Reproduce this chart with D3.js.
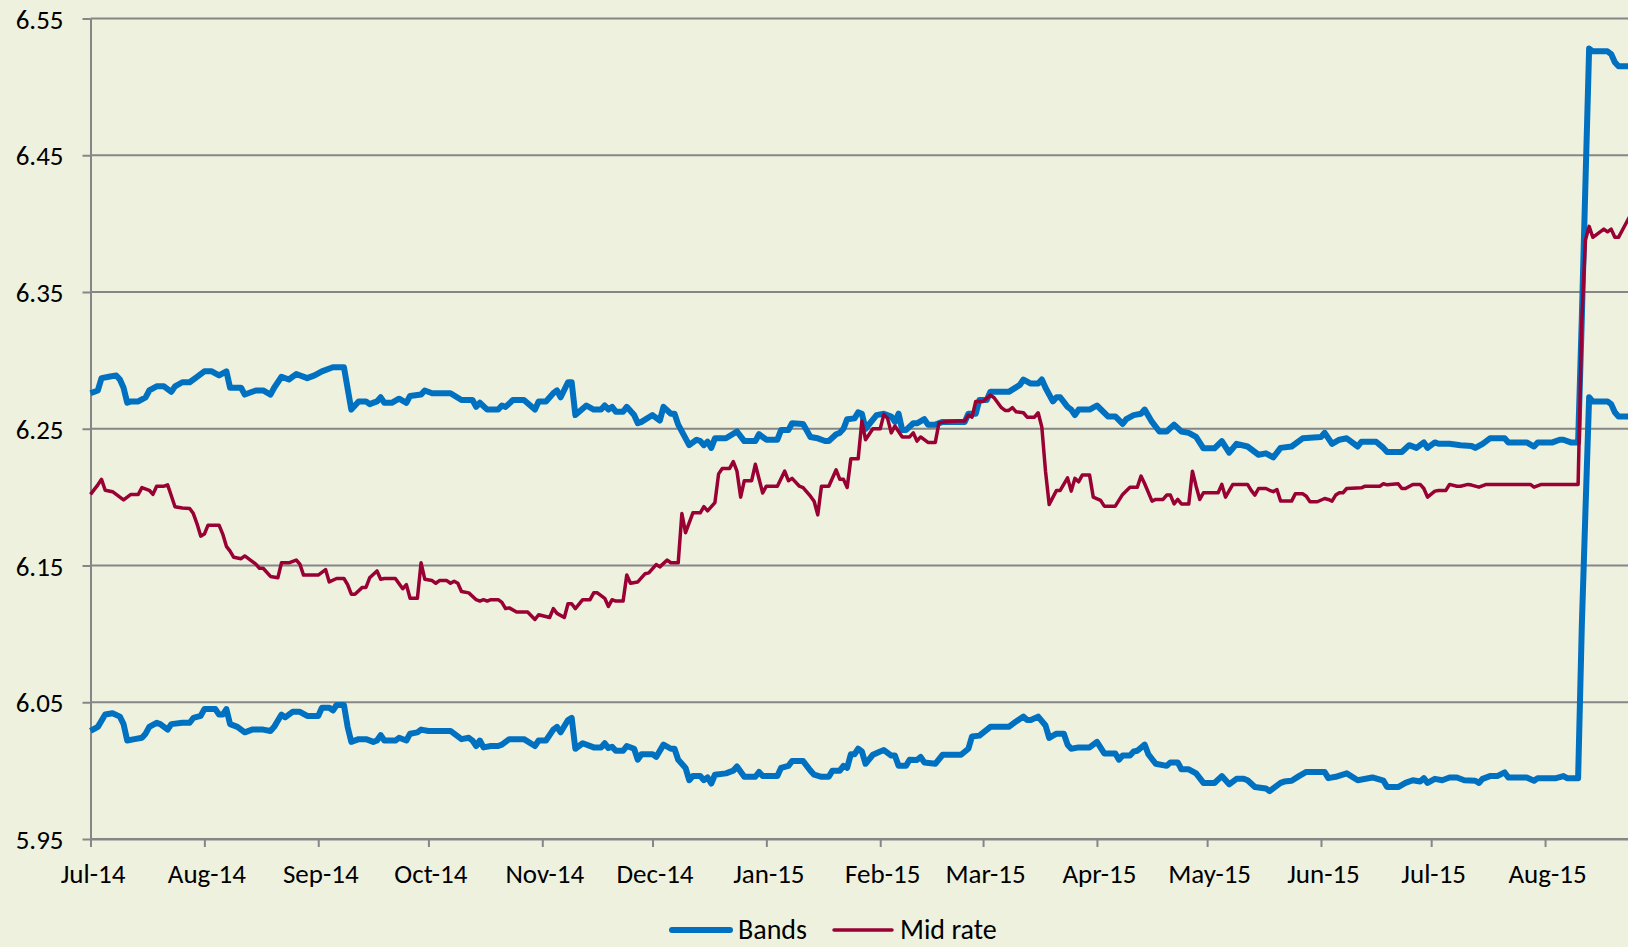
<!DOCTYPE html>
<html>
<head>
<meta charset="utf-8">
<script src="https://cdn.jsdelivr.net/npm/d3@7"></script>
<style>
  body { margin: 0; background: #eef1de; }
  .chart text { font-family: Carlito, Lato, "Noto Sans", sans-serif; fill: #000; }
</style>
</head>
<body>
<div class="chart"></div>
<script>
// upper edge of the trading band
const bandUpper = [
  ["2014-07-01",6.276],["2014-07-03",6.278],["2014-07-04",6.287],["2014-07-06",6.288],["2014-07-08",6.289],["2014-07-09",6.286],
  ["2014-07-10",6.280],["2014-07-11",6.269],["2014-07-12",6.270],["2014-07-14",6.270],["2014-07-16",6.273],["2014-07-17",6.278],
  ["2014-07-19",6.281],["2014-07-21",6.281],["2014-07-23",6.277],["2014-07-24",6.281],["2014-07-26",6.284],["2014-07-28",6.284],
  ["2014-07-30",6.288],["2014-08-01",6.292],["2014-08-03",6.292],["2014-08-05",6.289],["2014-08-07",6.292],["2014-08-08",6.280],
  ["2014-08-11",6.280],["2014-08-12",6.275],["2014-08-15",6.278],["2014-08-17",6.278],["2014-08-19",6.275],["2014-08-20",6.280],
  ["2014-08-22",6.288],["2014-08-24",6.286],["2014-08-26",6.290],["2014-08-29",6.287],["2014-08-31",6.289],["2014-09-02",6.292],
  ["2014-09-05",6.295],["2014-09-08",6.295],["2014-09-10",6.264],["2014-09-12",6.270],["2014-09-14",6.270],["2014-09-15",6.268],
  ["2014-09-17",6.270],["2014-09-18",6.273],["2014-09-19",6.269],["2014-09-21",6.269],["2014-09-23",6.272],["2014-09-25",6.269],
  ["2014-09-26",6.274],["2014-09-29",6.275],["2014-09-30",6.278],["2014-10-02",6.276],["2014-10-07",6.276],["2014-10-10",6.271],
  ["2014-10-13",6.271],["2014-10-14",6.266],["2014-10-15",6.269],["2014-10-17",6.264],["2014-10-20",6.264],["2014-10-21",6.267],
  ["2014-10-22",6.266],["2014-10-24",6.271],["2014-10-27",6.271],["2014-10-30",6.264],["2014-10-31",6.270],["2014-11-02",6.270],
  ["2014-11-04",6.276],["2014-11-05",6.278],["2014-11-06",6.273],["2014-11-08",6.284],["2014-11-09",6.284],["2014-11-10",6.260],
  ["2014-11-13",6.267],["2014-11-15",6.264],["2014-11-17",6.264],["2014-11-18",6.267],["2014-11-19",6.264],["2014-11-20",6.266],
  ["2014-11-21",6.2625],["2014-11-23",6.2625],["2014-11-24",6.266],["2014-11-26",6.260],["2014-11-27",6.254],["2014-11-28",6.255],
  ["2014-12-01",6.260],["2014-12-03",6.256],["2014-12-04",6.266],["2014-12-06",6.261],["2014-12-07",6.261],["2014-12-08",6.253],
  ["2014-12-11",6.238],["2014-12-13",6.242],["2014-12-14",6.241],["2014-12-15",6.238],["2014-12-16",6.2405],["2014-12-17",6.236],
  ["2014-12-18",6.243],["2014-12-21",6.243],["2014-12-24",6.248],["2014-12-26",6.241],["2014-12-29",6.241],["2014-12-30",6.246],
  ["2015-01-01",6.242],["2015-01-04",6.242],["2015-01-05",6.249],["2015-01-07",6.249],["2015-01-08",6.254],["2015-01-11",6.2535],
  ["2015-01-13",6.244],["2015-01-15",6.243],["2015-01-17",6.241],["2015-01-18",6.241],["2015-01-20",6.246],["2015-01-21",6.247],
  ["2015-01-22",6.250],["2015-01-23",6.257],["2015-01-25",6.2576],["2015-01-26",6.262],["2015-01-27",6.261],["2015-01-28",6.250],
  ["2015-01-31",6.260],["2015-02-02",6.261],["2015-02-04",6.259],["2015-02-05",6.255],["2015-02-06",6.261],["2015-02-07",6.249],
  ["2015-02-08",6.249],["2015-02-10",6.254],["2015-02-11",6.254],["2015-02-13",6.257],["2015-02-14",6.253],["2015-02-16",6.253],
  ["2015-02-18",6.255],["2015-02-24",6.255],["2015-02-25",6.261],["2015-02-27",6.261],["2015-02-28",6.271],["2015-03-02",6.271],
  ["2015-03-03",6.277],["2015-03-08",6.277],["2015-03-11",6.282],["2015-03-12",6.286],["2015-03-14",6.283],["2015-03-16",6.283],
  ["2015-03-17",6.286],["2015-03-18",6.280],["2015-03-20",6.270],["2015-03-21",6.273],["2015-03-22",6.273],["2015-03-24",6.266],
  ["2015-03-25",6.264],["2015-03-26",6.260],["2015-03-27",6.264],["2015-03-30",6.264],["2015-04-01",6.267],["2015-04-04",6.259],
  ["2015-04-06",6.259],["2015-04-08",6.2535],["2015-04-09",6.257],["2015-04-11",6.260],["2015-04-13",6.261],["2015-04-14",6.264],
  ["2015-04-16",6.255],["2015-04-18",6.248],["2015-04-20",6.248],["2015-04-22",6.253],["2015-04-24",6.248],["2015-04-26",6.247],
  ["2015-04-28",6.244],["2015-04-30",6.2357],["2015-05-03",6.2357],["2015-05-05",6.241],["2015-05-07",6.2325],["2015-05-09",6.239],
  ["2015-05-12",6.237],["2015-05-15",6.231],["2015-05-17",6.232],["2015-05-19",6.229],["2015-05-21",6.236],["2015-05-24",6.237],
  ["2015-05-27",6.243],["2015-06-01",6.244],["2015-06-02",6.247],["2015-06-04",6.239],["2015-06-06",6.242],["2015-06-08",6.243],
  ["2015-06-11",6.237],["2015-06-12",6.2405],["2015-06-16",6.2405],["2015-06-18",6.236],["2015-06-19",6.233],["2015-06-23",6.233],
  ["2015-06-25",6.238],["2015-06-27",6.236],["2015-06-29",6.240],["2015-06-30",6.236],["2015-07-02",6.240],["2015-07-03",6.239],
  ["2015-07-06",6.239],["2015-07-09",6.238],["2015-07-12",6.2374],["2015-07-13",6.236],["2015-07-15",6.239],["2015-07-17",6.243],
  ["2015-07-21",6.243],["2015-07-22",6.240],["2015-07-27",6.240],["2015-07-29",6.237],["2015-07-30",6.240],["2015-08-03",6.240],
  ["2015-08-05",6.242],["2015-08-06",6.242],["2015-08-08",6.240],["2015-08-10",6.240],["2015-08-11",6.330],["2015-08-12",6.430],
  ["2015-08-13",6.528],["2015-08-14",6.526],["2015-08-18",6.526],["2015-08-19",6.524],["2015-08-20",6.518],["2015-08-21",6.515],
  ["2015-08-24",6.515]
]

// lower edge of the trading band
const bandLower = [
  ["2014-07-01",6.029],["2014-07-03",6.032],["2014-07-05",6.041],["2014-07-07",6.042],["2014-07-09",6.0395],["2014-07-10",6.034],
  ["2014-07-11",6.022],["2014-07-13",6.023],["2014-07-15",6.024],["2014-07-16",6.027],["2014-07-17",6.032],["2014-07-19",6.035],
  ["2014-07-20",6.034],["2014-07-22",6.030],["2014-07-23",6.034],["2014-07-26",6.035],["2014-07-28",6.035],["2014-07-29",6.0385],
  ["2014-07-31",6.040],["2014-08-01",6.045],["2014-08-04",6.045],["2014-08-05",6.041],["2014-08-06",6.041],["2014-08-07",6.045],
  ["2014-08-08",6.034],["2014-08-10",6.032],["2014-08-12",6.028],["2014-08-14",6.030],["2014-08-17",6.030],["2014-08-19",6.029],
  ["2014-08-20",6.032],["2014-08-22",6.041],["2014-08-23",6.039],["2014-08-25",6.043],["2014-08-27",6.043],["2014-08-29",6.040],
  ["2014-09-01",6.040],["2014-09-02",6.046],["2014-09-04",6.046],["2014-09-05",6.044],["2014-09-06",6.048],["2014-09-08",6.048],
  ["2014-09-09",6.032],["2014-09-10",6.021],["2014-09-12",6.023],["2014-09-14",6.023],["2014-09-16",6.021],["2014-09-17",6.022],
  ["2014-09-18",6.026],["2014-09-19",6.022],["2014-09-22",6.022],["2014-09-23",6.024],["2014-09-25",6.022],["2014-09-26",6.027],
  ["2014-09-28",6.028],["2014-09-29",6.030],["2014-10-01",6.029],["2014-10-07",6.029],["2014-10-10",6.023],["2014-10-12",6.024],
  ["2014-10-13",6.022],["2014-10-14",6.018],["2014-10-15",6.022],["2014-10-16",6.017],["2014-10-18",6.018],["2014-10-20",6.018],
  ["2014-10-21",6.019],["2014-10-23",6.023],["2014-10-27",6.023],["2014-10-30",6.018],["2014-10-31",6.022],["2014-11-02",6.022],
  ["2014-11-04",6.030],["2014-11-05",6.032],["2014-11-06",6.028],["2014-11-08",6.037],["2014-11-09",6.0385],["2014-11-10",6.016],
  ["2014-11-12",6.020],["2014-11-15",6.017],["2014-11-17",6.017],["2014-11-18",6.020],["2014-11-19",6.0165],["2014-11-20",6.0175],
  ["2014-11-21",6.0145],["2014-11-23",6.0145],["2014-11-24",6.018],["2014-11-26",6.016],["2014-11-27",6.008],["2014-11-28",6.012],
  ["2014-12-01",6.012],["2014-12-02",6.010],["2014-12-04",6.019],["2014-12-06",6.016],["2014-12-07",6.016],["2014-12-08",6.008],
  ["2014-12-10",6.002],["2014-12-11",5.993],["2014-12-12",5.996],["2014-12-14",5.996],["2014-12-15",5.993],["2014-12-16",5.995],
  ["2014-12-17",5.9906],["2014-12-18",5.997],["2014-12-21",5.998],["2014-12-23",6.000],["2014-12-24",6.003],["2014-12-26",5.9955],
  ["2014-12-29",5.9955],["2014-12-30",5.999],["2014-12-31",5.996],["2015-01-04",5.996],["2015-01-05",6.002],["2015-01-07",6.0035],
  ["2015-01-08",6.007],["2015-01-11",6.007],["2015-01-13",6.000],["2015-01-14",5.997],["2015-01-16",5.9955],["2015-01-18",5.9955],
  ["2015-01-19",6.000],["2015-01-21",6.000],["2015-01-22",6.0035],["2015-01-23",6.002],["2015-01-24",6.012],["2015-01-25",6.012],
  ["2015-01-26",6.016],["2015-01-27",6.014],["2015-01-28",6.005],["2015-01-30",6.0116],["2015-02-01",6.014],["2015-02-02",6.015],
  ["2015-02-04",6.011],["2015-02-05",6.011],["2015-02-06",6.0035],["2015-02-08",6.0035],["2015-02-09",6.008],["2015-02-11",6.0077],
  ["2015-02-12",6.010],["2015-02-13",6.006],["2015-02-16",6.005],["2015-02-18",6.0116],["2015-02-23",6.0116],["2015-02-25",6.016],
  ["2015-02-26",6.025],["2015-02-28",6.0256],["2015-03-03",6.032],["2015-03-08",6.032],["2015-03-10",6.036],["2015-03-12",6.0395],
  ["2015-03-13",6.037],["2015-03-14",6.037],["2015-03-16",6.0395],["2015-03-18",6.033],["2015-03-19",6.024],["2015-03-21",6.027],
  ["2015-03-23",6.027],["2015-03-24",6.019],["2015-03-25",6.016],["2015-03-27",6.017],["2015-03-30",6.017],["2015-04-01",6.021],
  ["2015-04-03",6.0126],["2015-04-06",6.0126],["2015-04-07",6.008],["2015-04-08",6.011],["2015-04-10",6.011],["2015-04-11",6.014],
  ["2015-04-12",6.0145],["2015-04-14",6.019],["2015-04-15",6.012],["2015-04-17",6.005],["2015-04-20",6.0035],["2015-04-21",6.006],
  ["2015-04-23",6.006],["2015-04-24",6.001],["2015-04-26",6.001],["2015-04-28",5.998],["2015-04-30",5.991],["2015-05-03",5.991],
  ["2015-05-05",5.996],["2015-05-07",5.990],["2015-05-09",5.994],["2015-05-11",5.994],["2015-05-12",5.993],["2015-05-14",5.988],
  ["2015-05-17",5.987],["2015-05-18",5.985],["2015-05-21",5.991],["2015-05-22",5.992],["2015-05-24",5.9926],["2015-05-26",5.996],
  ["2015-05-28",5.999],["2015-06-02",5.999],["2015-06-03",5.9945],["2015-06-05",5.9955],["2015-06-08",5.998],["2015-06-11",5.993],
  ["2015-06-15",5.995],["2015-06-18",5.9926],["2015-06-19",5.988],["2015-06-22",5.988],["2015-06-24",5.991],["2015-06-26",5.993],
  ["2015-06-28",5.992],["2015-06-29",5.9945],["2015-06-30",5.991],["2015-07-02",5.994],["2015-07-04",5.993],["2015-07-06",5.995],
  ["2015-07-08",5.995],["2015-07-10",5.993],["2015-07-13",5.9926],["2015-07-14",5.991],["2015-07-15",5.994],["2015-07-17",5.996],
  ["2015-07-19",5.996],["2015-07-21",5.9987],["2015-07-22",5.995],["2015-07-27",5.995],["2015-07-29",5.9926],["2015-07-30",5.9945],
  ["2015-08-04",5.9945],["2015-08-06",5.996],["2015-08-07",5.9945],["2015-08-10",5.9945],["2015-08-11",6.105],["2015-08-12",6.190],
  ["2015-08-13",6.273],["2015-08-14",6.270],["2015-08-18",6.270],["2015-08-19",6.268],["2015-08-20",6.262],["2015-08-21",6.259],
  ["2015-08-24",6.259]
]

const midRate = [
  ["2014-07-01",6.202],["2014-07-03",6.209],["2014-07-04",6.213],["2014-07-05",6.205],["2014-07-07",6.204],["2014-07-08",6.202],
  ["2014-07-10",6.198],["2014-07-12",6.202],["2014-07-14",6.202],["2014-07-15",6.207],["2014-07-17",6.205],["2014-07-18",6.202],
  ["2014-07-19",6.208],["2014-07-21",6.208],["2014-07-22",6.209],["2014-07-23",6.201],["2014-07-24",6.193],["2014-07-26",6.192],
  ["2014-07-28",6.1917],["2014-07-29",6.188],["2014-07-30",6.1805],["2014-07-31",6.1715],["2014-08-01",6.173],["2014-08-02",6.1795],
  ["2014-08-05",6.1795],["2014-08-06",6.173],["2014-08-07",6.164],["2014-08-08",6.1605],["2014-08-09",6.156],["2014-08-11",6.155],
  ["2014-08-12",6.157],["2014-08-14",6.153],["2014-08-15",6.151],["2014-08-16",6.148],["2014-08-17",6.148],["2014-08-19",6.142],
  ["2014-08-21",6.141],["2014-08-22",6.152],["2014-08-24",6.152],["2014-08-26",6.154],["2014-08-27",6.151],["2014-08-28",6.143],
  ["2014-09-01",6.143],["2014-09-03",6.147],["2014-09-04",6.138],["2014-09-06",6.1405],["2014-09-08",6.1405],["2014-09-09",6.136],
  ["2014-09-10",6.129],["2014-09-11",6.129],["2014-09-13",6.134],["2014-09-14",6.134],["2014-09-15",6.141],["2014-09-17",6.146],
  ["2014-09-18",6.140],["2014-09-19",6.1405],["2014-09-22",6.1405],["2014-09-24",6.133],["2014-09-25",6.136],["2014-09-26",6.126],
  ["2014-09-28",6.126],["2014-09-29",6.152],["2014-09-30",6.140],["2014-10-02",6.139],["2014-10-03",6.137],["2014-10-04",6.139],
  ["2014-10-06",6.139],["2014-10-07",6.137],["2014-10-08",6.1385],["2014-10-09",6.137],["2014-10-10",6.131],["2014-10-12",6.130],
  ["2014-10-14",6.125],["2014-10-15",6.124],["2014-10-16",6.125],["2014-10-17",6.124],["2014-10-18",6.125],["2014-10-20",6.125],
  ["2014-10-21",6.123],["2014-10-22",6.1185],["2014-10-23",6.119],["2014-10-25",6.116],["2014-10-28",6.116],["2014-10-30",6.1105],
  ["2014-10-31",6.114],["2014-11-03",6.112],["2014-11-04",6.1185],["2014-11-05",6.115],["2014-11-07",6.112],["2014-11-08",6.122],
  ["2014-11-09",6.122],["2014-11-10",6.1185],["2014-11-12",6.125],["2014-11-14",6.125],["2014-11-15",6.130],["2014-11-16",6.130],
  ["2014-11-18",6.126],["2014-11-19",6.120],["2014-11-20",6.125],["2014-11-21",6.124],["2014-11-23",6.124],["2014-11-24",6.143],
  ["2014-11-25",6.137],["2014-11-27",6.138],["2014-11-29",6.144],["2014-11-30",6.1446],["2014-12-02",6.1507],["2014-12-03",6.149],
  ["2014-12-05",6.154],["2014-12-06",6.152],["2014-12-08",6.152],["2014-12-09",6.188],["2014-12-10",6.174],["2014-12-12",6.1885],
  ["2014-12-14",6.1885],["2014-12-15",6.193],["2014-12-16",6.190],["2014-12-18",6.196],["2014-12-19",6.217],["2014-12-20",6.221],
  ["2014-12-22",6.221],["2014-12-23",6.226],["2014-12-24",6.219],["2014-12-25",6.200],["2014-12-26",6.212],["2014-12-28",6.212],
  ["2014-12-29",6.224],["2014-12-31",6.203],["2015-01-01",6.208],["2015-01-04",6.208],["2015-01-06",6.219],["2015-01-07",6.212],
  ["2015-01-08",6.2137],["2015-01-10",6.208],["2015-01-11",6.207],["2015-01-13",6.2007],["2015-01-14",6.197],["2015-01-15",6.187],
  ["2015-01-16",6.208],["2015-01-18",6.208],["2015-01-20",6.220],["2015-01-21",6.213],["2015-01-22",6.213],["2015-01-23",6.207],
  ["2015-01-24",6.228],["2015-01-26",6.228],["2015-01-27",6.2556],["2015-01-28",6.242],["2015-01-29",6.246],["2015-01-30",6.250],
  ["2015-02-01",6.250],["2015-02-02",6.2605],["2015-02-03",6.2576],["2015-02-04",6.247],["2015-02-05",6.252],["2015-02-07",6.244],
  ["2015-02-09",6.244],["2015-02-10",6.247],["2015-02-11",6.241],["2015-02-12",6.244],["2015-02-14",6.240],["2015-02-16",6.240],
  ["2015-02-17",6.2544],["2015-02-19",6.2551],["2015-02-22",6.2556],["2015-02-24",6.2556],["2015-02-25",6.260],["2015-02-26",6.2585],
  ["2015-02-27",6.270],["2015-03-01",6.270],["2015-03-03",6.2746],["2015-03-04",6.2727],["2015-03-06",6.2654],["2015-03-07",6.2634],
  ["2015-03-08",6.2634],["2015-03-09",6.2654],["2015-03-10",6.2624],["2015-03-12",6.2617],["2015-03-13",6.2585],["2015-03-15",6.2585],
  ["2015-03-16",6.2617],["2015-03-17",6.2512],["2015-03-18",6.219],["2015-03-19",6.1946],["2015-03-21",6.2049],["2015-03-22",6.2049],
  ["2015-03-24",6.2141],["2015-03-25",6.2044],["2015-03-26",6.2137],["2015-03-27",6.2112],["2015-03-28",6.2161],["2015-03-30",6.2161],
  ["2015-03-31",6.200],["2015-04-02",6.1976],["2015-04-03",6.1934],["2015-04-06",6.1934],["2015-04-08",6.202],["2015-04-10",6.2073],
  ["2015-04-12",6.2073],["2015-04-13",6.2154],["2015-04-14",6.2098],["2015-04-16",6.1971],["2015-04-17",6.1983],["2015-04-19",6.1983],
  ["2015-04-20",6.2015],["2015-04-21",6.2015],["2015-04-22",6.1951],["2015-04-23",6.1983],["2015-04-24",6.195],["2015-04-26",6.195],
  ["2015-04-27",6.219],["2015-04-28",6.208],["2015-04-29",6.1983],["2015-04-30",6.2032],["2015-05-04",6.2032],["2015-05-05",6.2093],
  ["2015-05-06",6.200],["2015-05-08",6.2093],["2015-05-12",6.2093],["2015-05-13",6.2049],["2015-05-14",6.2015],["2015-05-15",6.2063],
  ["2015-05-17",6.2063],["2015-05-18",6.205],["2015-05-19",6.204],["2015-05-20",6.2056],["2015-05-21",6.1971],["2015-05-24",6.1971],
  ["2015-05-25",6.2024],["2015-05-27",6.2024],["2015-05-28",6.2007],["2015-05-29",6.1966],["2015-05-31",6.1966],["2015-06-02",6.199],
  ["2015-06-03",6.1983],["2015-06-04",6.1971],["2015-06-05",6.2015],["2015-06-06",6.2032],["2015-06-07",6.2032],["2015-06-08",6.2063],
  ["2015-06-12",6.2068],["2015-06-13",6.208],["2015-06-17",6.208],["2015-06-18",6.2098],["2015-06-19",6.209],["2015-06-22",6.2098],
  ["2015-06-23",6.2063],["2015-06-24",6.2063],["2015-06-26",6.2093],["2015-06-28",6.2093],["2015-06-29",6.2063],["2015-06-30",6.200],
  ["2015-07-02",6.2044],["2015-07-03",6.2049],["2015-07-05",6.2049],["2015-07-06",6.2093],["2015-07-08",6.208],["2015-07-09",6.208],
  ["2015-07-11",6.2093],["2015-07-12",6.2088],["2015-07-14",6.2073],["2015-07-16",6.2093],["2015-07-28",6.2093],["2015-07-29",6.2073],
  ["2015-07-31",6.2093],["2015-08-10",6.2093],["2015-08-11",6.328],["2015-08-12",6.388],["2015-08-13",6.398],["2015-08-14",6.390],
  ["2015-08-17",6.396],["2015-08-18",6.394],["2015-08-19",6.396],["2015-08-20",6.390],["2015-08-21",6.390],["2015-08-24",6.405]
]

const yTicks = [5.95, 6.05, 6.15, 6.25, 6.35, 6.45, 6.55]
const monthTicks = ["2014-07-01","2014-08-01","2014-09-01","2014-10-01","2014-11-01","2014-12-01","2015-01-01",
  "2015-02-01","2015-03-01","2015-04-01","2015-05-01","2015-06-01","2015-07-01","2015-08-01"]
const legendKeys = ["Bands", "Mid rate"]

let w = 1628
let h = 947
let plotLeft = 90.5, plotRight = 1628, plotTop = 18.5, plotBottom = 839
let gridColor = "#868686"
let blue = "#0070c0"
let red = "#990033"

let parse = d3.utcParse("%Y-%m-%d")

let svg = d3.select(".chart")
  .append("svg")
  .attr("width", w)
  .attr("height", h)
  .style("display", "block")
  .style("background-color", "#eef1de")

// date axis runs a bit past the last month tick, out to the right edge
const xScale = d3.scaleUtc()
  .domain([parse("2014-07-01"), d3.utcHour.offset(parse("2015-08-23"), 14)])
  .range([plotLeft, plotRight])

const yScale = d3.scaleLinear()
  .domain([5.95, 6.55])
  .range([plotBottom, plotTop])

// horizontal gridlines
svg.append("g")
  .selectAll("line")
  .data(yTicks)
  .join("line")
  .attr("x1", plotLeft)
  .attr("x2", plotRight)
  .attr("y1", d => yScale(d))
  .attr("y2", d => yScale(d))
  .attr("stroke", gridColor)
  .attr("stroke-width", 2)

const yAxis = d3.axisLeft(yScale)
  .tickValues(yTicks)
  .tickFormat(d3.format(".2f"))
  .tickSize(8)
  .tickSizeOuter(0)
  .tickPadding(19)

let gy = svg.append("g")
  .attr("transform", "translate(" + plotLeft + ",0)")
  .call(yAxis)
gy.select(".domain").attr("stroke", gridColor).attr("stroke-width", 2)
gy.selectAll(".tick line").attr("stroke", gridColor).attr("stroke-width", 2)
gy.selectAll(".tick text").style("font-size", "27px").attr("dy", "0.36em")

const xAxis = d3.axisBottom(xScale)
  .tickValues(monthTicks.map(parse))
  .tickFormat(d3.utcFormat("%b-%y"))
  .tickSize(8)
  .tickSizeOuter(0)

let gx = svg.append("g")
  .attr("transform", "translate(0," + plotBottom + ")")
  .call(xAxis)
gx.select(".domain").attr("stroke", gridColor).attr("stroke-width", 2)
gx.selectAll(".tick line").attr("stroke", gridColor).attr("stroke-width", 2)
gx.selectAll(".tick text").style("font-size", "27px").attr("y", 44).attr("dy", null).attr("dx", 2)

let line = d3.line()
  .x(d => xScale(parse(d[0])))
  .y(d => yScale(d[1]))

svg.selectAll(".band")
  .data([bandUpper, bandLower])
  .join("path")
  .attr("class", "band")
  .attr("d", line)
  .attr("fill", "none")
  .attr("stroke", blue)
  .attr("stroke-width", 6)
  .attr("stroke-linejoin", "round")

svg.append("path")
  .datum(midRate)
  .attr("d", line)
  .attr("fill", "none")
  .attr("stroke", red)
  .attr("stroke-width", 3.5)
  .attr("stroke-linejoin", "round")

// legend at the bottom (kept just inside the page edge)
let legendX = [672, 834]
let legendColors = [blue, red]
let legendWidths = [6, 3.5]
let legend = svg.append("g").attr("id", "legend")
legend.selectAll("line")
  .data(legendKeys)
  .join("line")
  .attr("x1", (d, i) => legendX[i])
  .attr("x2", (d, i) => legendX[i] + 58)
  .attr("y1", 930)
  .attr("y2", 930)
  .attr("stroke", (d, i) => legendColors[i])
  .attr("stroke-width", (d, i) => legendWidths[i])
  .attr("stroke-linecap", "round")
legend.selectAll("text")
  .data(legendKeys)
  .join("text")
  .attr("x", (d, i) => legendX[i] + 66)
  .attr("y", 939)
  .style("font-size", "28px")
  .text(d => d)
</script>
</body>
</html>
